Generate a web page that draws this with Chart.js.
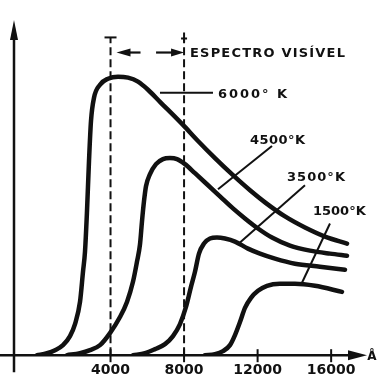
<!DOCTYPE html>
<html><head><meta charset="utf-8">
<script src="https://cdn.jsdelivr.net/npm/chart.js@4.4.1/dist/chart.umd.min.js"></script>
<style>html,body{margin:0;padding:0;background:#fff}</style>
</head><body>
<canvas id="c" width="380" height="389"></canvas>
<script>
// ---- data (wavelength in Å, relative intensity) ----
const xTickValues = [4000, 8000, 12000, 16000];

const x6000 = [0, 545, 980, 1415, 1796, 2068, 2340, 2503, 2612, 2720, 2829, 2938, 3101, 3428, 3863, 4407, 4950, 5494, 6038, 6691, 7942, 8758, 9682, 10661, 11586, 12402, 13490, 14577, 15665, 16862];
const y6000 = [0, 0.6, 1.5, 3.0, 5.7, 9.3, 15.9, 24.9, 30.9, 42.9, 57.9, 69.9, 76.8, 80.7, 82.5, 83.1, 82.8, 81.6, 79.2, 75.6, 68.7, 63.9, 58.8, 53.7, 49.2, 45.6, 41.4, 38.1, 35.4, 33.3];

const x4500 = [1632, 2339, 2883, 3427, 3970, 4514, 4895, 5221, 5439, 5602, 5711, 5820, 5929, 6146, 6472, 6853, 7234, 7615, 8050, 8594, 9246, 9953, 10660, 11313, 12020, 12782, 13761, 14849, 15937, 16861];
const y4500 = [0, 0.6, 1.5, 3.0, 6.6, 11.4, 15.9, 21.9, 27.9, 33.0, 39.9, 45.9, 50.4, 54.0, 57.0, 58.5, 58.8, 58.5, 57.0, 54.3, 51.0, 47.4, 43.8, 40.8, 37.8, 35.1, 32.7, 31.2, 30.3, 29.7];

const x3500 = [5221, 5874, 6418, 6962, 7397, 7778, 8104, 8376, 8594, 8811, 9083, 9409, 9790, 10225, 10769, 11476, 12129, 12945, 14033, 15392, 16752];
const y3500 = [0, 0.6, 1.8, 3.3, 5.7, 9.3, 14.4, 20.4, 24.9, 30.3, 33.3, 34.8, 35.1, 34.8, 33.9, 31.8, 30.3, 28.8, 27.3, 26.4, 25.5];

const x1500 = [9138, 9682, 10117, 10498, 10769, 11041, 11313, 11640, 12020, 12510, 13217, 14033, 15120, 16589];
const y1500 = [0, 0.3, 1.2, 3.0, 6.0, 9.9, 14.1, 17.1, 19.2, 20.7, 21.3, 21.3, 20.7, 18.9];

// visible spectrum limits
const visibleLimits = [4000, 8000];
const visibleTop = 94.8;

// leader lines from labels to curves [x0, x1], [y0, y1]
const lead6000X = [6690, 9573], lead6000Y = [78.3, 78.3];
const lead4500X = [9845, 12782], lead4500Y = [49.5, 62.4];
const lead3500X = [11041, 14577], lead3500Y = [33.6, 50.7];
const lead1500X = [14413, 15936], lead1500Y = [21.6, 39.3];

const labelTexts = ['ESPECTRO VISÍVEL', '6000° K', '4500°K', '3500°K', '1500°K'];
const axisUnit = 'Å';

// ---- build chart ----
const pts = (xs, ys) => xs.map((x, i) => ({x, y: ys[i]}));
const INK = '#111';
const curve = (xs, ys) => ({data: pts(xs, ys), borderColor: INK, borderWidth: 4.5, pointRadius: 0, cubicInterpolationMode: 'monotone', fill: false, borderCapStyle: 'round', borderJoinStyle: 'round'});
const thin = (xs, ys) => ({data: pts(xs, ys), borderColor: INK, borderWidth: 2, pointRadius: 0, tension: 0, fill: false});
const dashed = (x) => ({data: [{x, y: 0}, {x, y: visibleTop}], borderColor: INK, borderWidth: 2, borderDash: [8, 4], pointRadius: 0, fill: false});

// label placement (data coords: left x, middle y, target width px)
const labelPlace = [
  {x: 8322, y: 90.0, w: 155},
  {x: 9845, y: 77.7, w: 69},
  {x: 11585, y: 63.9, w: 55},
  {x: 13598, y: 53.1, w: 58},
  {x: 15012, y: 42.9, w: 52}
];

const FONT = 'bold 13px "DejaVu Sans"';

const decor = {
  id: 'decor',
  afterDatasetsDraw(chart) {
    const ctx = chart.ctx, xs = chart.scales.x, ys = chart.scales.y;
    const ca = chart.chartArea;
    ctx.save();
    ctx.strokeStyle = INK; ctx.fillStyle = INK;
    // y axis
    const ax = ca.left, by = ca.bottom;
    ctx.lineWidth = 2.5;
    ctx.beginPath(); ctx.moveTo(ax, ca.bottom + 17); ctx.lineTo(ax, ca.top + 15); ctx.stroke();
    ctx.beginPath(); ctx.moveTo(ax, ca.top); ctx.lineTo(ax - 4, ca.top + 20); ctx.lineTo(ax + 4, ca.top + 20); ctx.closePath(); ctx.fill();
    // x axis
    ctx.beginPath(); ctx.moveTo(0, by); ctx.lineTo(ca.right - 15, by); ctx.stroke();
    ctx.beginPath(); ctx.moveTo(ca.right, by); ctx.lineTo(ca.right - 19, by - 5); ctx.lineTo(ca.right - 19, by + 5); ctx.closePath(); ctx.fill();
    // tick marks
    ctx.lineWidth = 2;
    xTickValues.forEach(v => { const px = xs.getPixelForValue(v); ctx.beginPath(); ctx.moveTo(px, by - 6); ctx.lineTo(px, by + 7); ctx.stroke(); });
    // unit
    ctx.font = 'bold 12px "DejaVu Sans"'; ctx.textAlign = 'center'; ctx.textBaseline = 'middle';
    ctx.fillText(axisUnit, ca.right + 5, by + 2);
    // visible spectrum marks
    const lx = xs.getPixelForValue(visibleLimits[0]), rx = xs.getPixelForValue(visibleLimits[1]);
    const ty = ys.getPixelForValue(visibleTop);
    ctx.lineWidth = 2;
    ctx.beginPath(); ctx.moveTo(lx - 6, ty); ctx.lineTo(lx + 6, ty); ctx.stroke();
    ctx.beginPath(); ctx.moveTo(rx, ty - 5); ctx.lineTo(rx, ty + 4); ctx.moveTo(rx - 3, ty + 1); ctx.lineTo(rx + 3, ty + 1); ctx.stroke();
    const ay = ys.getPixelForValue(labelPlace[0].y) - 1;
    ctx.lineWidth = 2.2;
    // left arrow
    ctx.beginPath(); ctx.moveTo(lx + 18, ay); ctx.lineTo(lx + 30, ay); ctx.stroke();
    ctx.beginPath(); ctx.moveTo(lx + 6, ay); ctx.lineTo(lx + 20, ay - 4); ctx.lineTo(lx + 20, ay + 4); ctx.closePath(); ctx.fill();
    // right arrow
    ctx.beginPath(); ctx.moveTo(rx - 28, ay); ctx.lineTo(rx - 12, ay); ctx.stroke();
    ctx.beginPath(); ctx.moveTo(rx, ay); ctx.lineTo(rx - 13, ay - 4); ctx.lineTo(rx - 13, ay + 4); ctx.closePath(); ctx.fill();
    // labels
    ctx.font = FONT; ctx.textAlign = 'left'; ctx.textBaseline = 'middle';
    labelTexts.forEach((t, i) => {
      const p = labelPlace[i];
      ctx.letterSpacing = '0px';
      const w = ctx.measureText(t).width;
      const n = [...t].length;
      const s = Math.max(0, (p.w - w) / (n - 1));
      ctx.letterSpacing = s.toFixed(2) + 'px';
      ctx.fillText(t, xs.getPixelForValue(p.x), ys.getPixelForValue(p.y));
    });
    ctx.letterSpacing = '0px';
    ctx.restore();
  }
};

new Chart(document.getElementById('c'), {
  type: 'line',
  data: {
    datasets: [
      curve(x6000, y6000), curve(x4500, y4500), curve(x3500, y3500), curve(x1500, y1500),
      dashed(visibleLimits[0]), dashed(visibleLimits[1]),
      thin(lead6000X, lead6000Y), thin(lead4500X, lead4500Y), thin(lead3500X, lead3500Y), thin(lead1500X, lead1500Y)
    ]
  },
  options: {
    responsive: false, animation: false, devicePixelRatio: 1,
    layout: {padding: {left: 14, right: 13, top: 20, bottom: 3}},
    plugins: {legend: {display: false}, tooltip: {enabled: false}},
    scales: {
      x: {
        type: 'linear', min: -1250, max: 17950,
        grid: {display: false, drawTicks: false},
        border: {display: false},
        afterBuildTicks: (axis) => { axis.ticks = xTickValues.map(v => ({value: v})); },
        ticks: {color: INK, font: {family: 'DejaVu Sans', size: 14, weight: 'bold'}, padding: 7, maxRotation: 0, autoSkip: false, callback: (v) => String(v)}
      },
      y: {type: 'linear', min: 0, max: 100, display: false}
    }
  },
  plugins: [decor]
});
</script>
</body></html>
